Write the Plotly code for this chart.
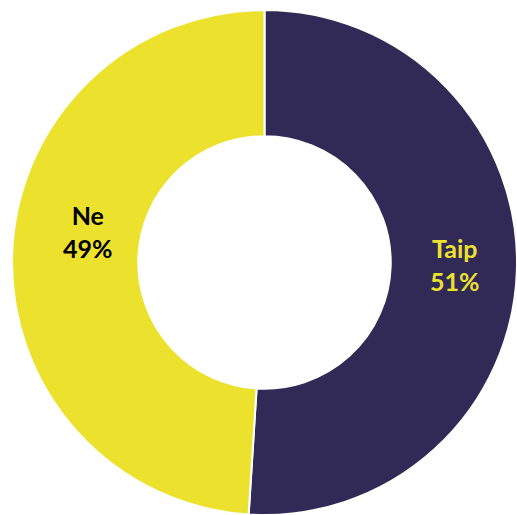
import plotly.graph_objects as go

labels = ["Taip", "Ne"]
values = [51, 49]
colors = ["#312A57", "#ECE22E"]
text_colors = ["#ECE22E", "#000000"]
label_pos = [(0.877, 0.497), (0.150, 0.562)]

total = sum(values)

fig = go.Figure(go.Pie(
    labels=labels,
    values=values,
    hole=0.5,
    sort=False,
    direction="clockwise",
    rotation=0,
    marker=dict(colors=colors, line=dict(color="white", width=2)),
    textinfo="none",
    showlegend=False,
    hoverinfo="label+percent",
))

for lab, val, col, (px, py) in zip(labels, values, text_colors, label_pos):
    fig.add_annotation(
        x=px, y=py, xref="paper", yref="paper",
        xanchor="center", yanchor="middle",
        text=f"<b>{lab}<br>{round(val / total * 100)}%</b>",
        showarrow=False,
        font=dict(family="Lato", size=25, color=col),
        align="center",
    )

fig.update_layout(
    width=517, height=515,
    margin=dict(l=12, r=0, t=10, b=0),
    paper_bgcolor="white",
)
fig.write_html(
    "out.html",
    config={"displayModeBar": False},
    post_script="document.body.style.margin='0';document.body.style.overflow='hidden';",
)
